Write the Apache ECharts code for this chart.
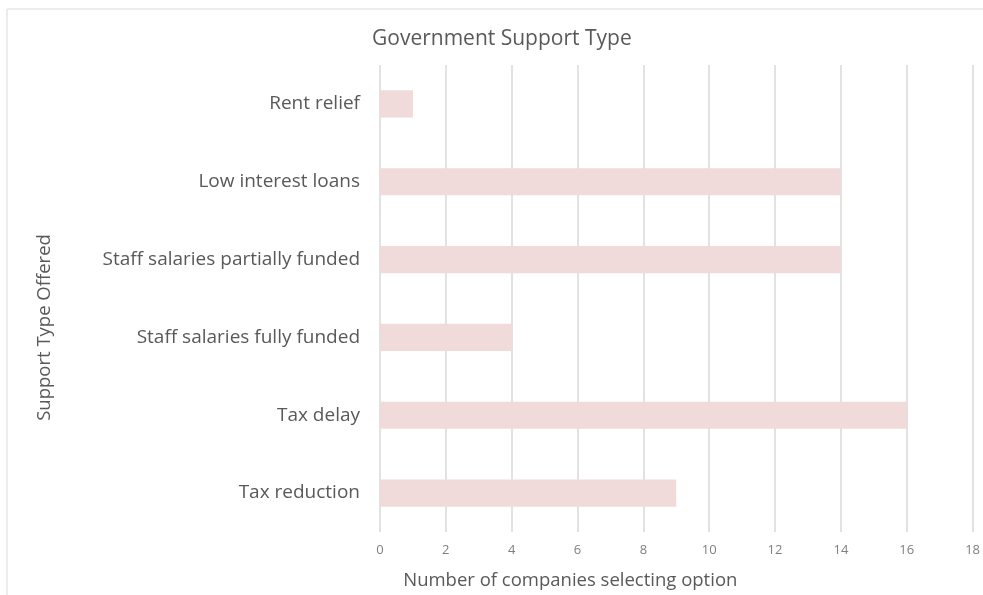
<!DOCTYPE html>
<html><head><meta charset="utf-8">
<script src="https://cdn.jsdelivr.net/npm/echarts@6/dist/echarts.min.js"></script>
<style>html,body{margin:0;padding:0;background:#fff}#c{width:983px;height:595px}</style>
</head><body><div id="c"></div>
<script>
const categories = ["Tax reduction","Tax delay","Staff salaries fully funded","Staff salaries partially funded","Low interest loans","Rent relief"];
const values = [9,16,4,14,14,1];
const xTicks = [0,2,4,6,8,10,12,14,16,18];
const FONT = "'Open Sans', sans-serif";
const chart = echarts.init(document.getElementById('c'));
chart.setOption({
  animation:false,
  backgroundColor:'#fff',
  title:{text:'Government Support Type',left:367,top:24,
    textStyle:{fontFamily:FONT,fontSize:21,fontWeight:'normal',color:'#595959'}},
  graphic:[{type:'rect',shape:{x:7,y:9,width:1000,height:620},silent:true,
    style:{fill:'none',stroke:'#d9d9d9',lineWidth:1}}],
  grid:{left:380,right:3,top:65,bottom:62,containLabel:false},
  xAxis:{type:'value',min:xTicks[0],max:xTicks[xTicks.length-1],interval:2,
    name:'Number of companies selecting option',nameLocation:'middle',nameGap:39,
    nameTextStyle:{fontFamily:FONT,fontSize:18.5,color:'#595959',padding:[0,212,0,0]},
    axisLine:{show:false},axisTick:{show:false},
    axisLabel:{margin:12,fontFamily:FONT,fontSize:13,color:'#808080'},
    splitLine:{show:true,lineStyle:{color:'#d9d9d9',width:1.5}}},
  yAxis:{type:'category',data:categories,
    name:'Support Type Offered',nameLocation:'middle',nameGap:326,
    nameTextStyle:{fontFamily:FONT,fontSize:18.5,color:'#595959',padding:[0,58,0,0]},
    axisLine:{show:false},axisTick:{show:false},
    axisLabel:{margin:20,fontFamily:FONT,fontSize:19,color:'#595959',padding:[4,0,0,0]}},
  series:[{type:'bar',data:values,barWidth:'35%',
    itemStyle:{color:'#f0dada'}}]
});
</script></body></html>
